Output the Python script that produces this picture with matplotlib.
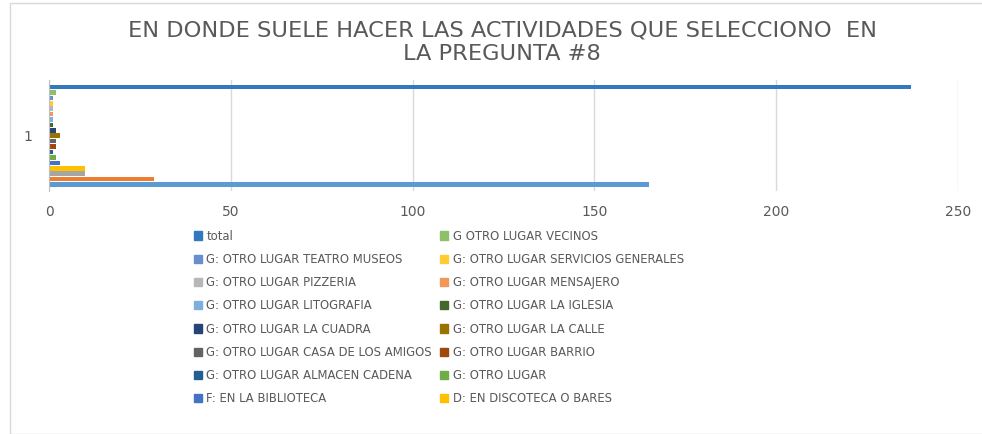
import matplotlib.pyplot as plt
from matplotlib.patches import Rectangle, Patch

# series in plotting order (bottom bar first); first three are hidden in the cut legend
series = ["A", "B", "C",
          "D: EN DISCOTECA O BARES", "F: EN LA BIBLIOTECA", "G: OTRO LUGAR",
          "G: OTRO LUGAR ALMACEN CADENA", "G: OTRO LUGAR BARRIO",
          "G: OTRO LUGAR CASA DE LOS AMIGOS", "G: OTRO LUGAR LA CALLE",
          "G: OTRO LUGAR LA CUADRA", "G: OTRO LUGAR LA IGLESIA",
          "G: OTRO LUGAR LITOGRAFIA", "G: OTRO LUGAR MENSAJERO",
          "G: OTRO LUGAR PIZZERIA", "G: OTRO LUGAR SERVICIOS GENERALES",
          "G: OTRO LUGAR TEATRO MUSEOS", "G OTRO LUGAR VECINOS", "total"]
values = [165, 29, 10, 10, 3, 2, 1, 2, 2, 3, 2, 1, 1, 1, 1, 1, 1, 2, 237]
colors = ["#5B9BD5", "#ED7D31", "#A5A5A5", "#FFC000", "#4472C4", "#70AD47",
          "#255E91", "#9E480E", "#636363", "#997300", "#264478", "#43682B",
          "#7CAFDD", "#F1975A", "#B7B7B7", "#FFCD33", "#698ED0", "#8CC168",
          "#3278C0"]
category = "1"
xticks = [0, 50, 100, 150, 200, 250]
n_legend = 16

W, H = 982, 434
fig = plt.figure(figsize=(W / 100, H / 100), dpi=100)
fig.patches.append(Rectangle((10 / W, 0), 1, 1 - 3 / H, transform=fig.transFigure,
                             fill=False, edgecolor="#d9d9d9", linewidth=1))

ax = fig.add_axes([49 / W, 1 - 191 / H, (958 - 49) / W, 111 / H])
n = len(values)
pos = [i - (n - 1) / 2 for i in range(n)]
bars = ax.barh(pos, values, height=0.85, color=colors)
ax.set_ylim(-10.2, 10.3)
ax.set_xlim(0, 250)
ax.set_xticks(xticks)
ax.set_yticks([0])
ax.set_yticklabels([category])
ax.tick_params(length=0, colors="#595959", labelsize=10)
ax.tick_params(axis="x", pad=10)
ax.tick_params(axis="y", pad=12)
ax.grid(axis="x", color="#d9d9d9", linewidth=1)
ax.set_axisbelow(True)
for s in ["top", "right", "bottom"]:
    ax.spines[s].set_visible(False)
ax.spines["left"].set_color("#bfbfbf")

fig.text(502 / W, 1 - 42 / H, "EN DONDE SUELE HACER LAS ACTIVIDADES QUE SELECCIONO  EN\nLA PREGUNTA #8",
         ha="center", va="center", fontsize=16.2, color="#595959",
         family="DejaVu Sans", linespacing=1.22)

# legend rows read left-to-right, top series first
order = list(range(n - 1, n - 1 - n_legend, -1))
col1 = order[0::2]
col2 = order[1::2]
handles = [Patch(color=colors[i]) for i in col1 + col2]
labels = [series[i] for i in col1 + col2]
fig.legend(handles, labels, ncol=2, loc="upper left",
           bbox_to_anchor=(183 / W, 1 - 219 / H), frameon=False,
           fontsize=8.4, labelcolor="#595959", handlelength=0.7, handleheight=0.7,
           handletextpad=0.4, columnspacing=0.7, labelspacing=0.88)

fig.savefig("out.png", dpi=100)
